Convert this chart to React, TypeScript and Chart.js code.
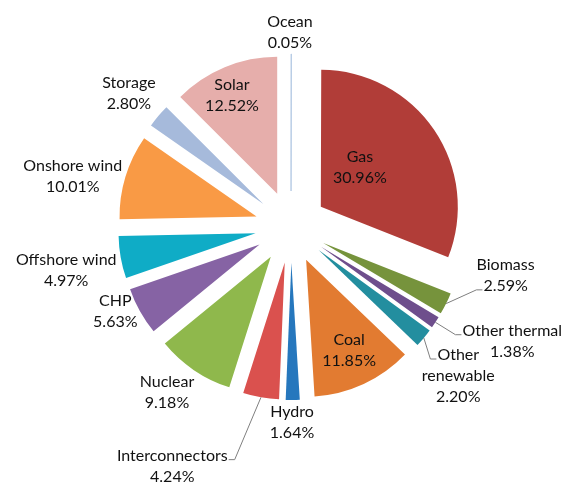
import React, { useEffect, useRef } from "react";
import { Chart, registerables } from "chart.js";

Chart.register(...registerables);

const categories = [
  "Ocean",
  "Gas",
  "Biomass",
  "Other thermal",
  "Other renewable",
  "Coal",
  "Hydro",
  "Interconnectors",
  "Nuclear",
  "CHP",
  "Offshore wind",
  "Onshore wind",
  "Storage",
  "Solar",
];

const shares = [0.05, 30.96, 2.59, 1.38, 2.2, 11.85, 1.64, 4.24, 9.18, 5.63, 4.97, 10.01, 2.8, 12.52];

const colors = [
  "#B9CDE5",
  "#B13D38",
  "#76933C",
  "#6E4E8C",
  "#238E9F",
  "#E27B31",
  "#2677BD",
  "#DA514E",
  "#8FB84C",
  "#8663A4",
  "#0FACC6",
  "#F99A45",
  "#A6BADB",
  "#E6AEAB",
];

// categories whose label is broken onto two lines at the space
const wrapped = ["Other renewable"];

// label placement, polar from the pie centre: distance (px) and angle (deg, clockwise from top)
const labelRadius = [195, 91, 220, 249, 224, 136, 195.5, 267, 207, 195, 229, 224, 210, 144];
const labelAngle = [-0.3, 49.2, 102.7, 117.3, 131.7, 154.7, 179.7, 206.4, 216.8, 244.3, 259, 283, 309.5, 335.8];

// leader lines: which text line they attach to and on which side
const leaders: ({ line: number; side: "left" | "right" } | null)[] = [
  null,
  null,
  { line: 1, side: "left" },
  { line: 0, side: "left" },
  { line: 0, side: "left" },
  null,
  null,
  { line: 0, side: "right" },
  null,
  null,
  null,
  null,
  null,
  null,
];

const EXPLODE = 36;
const RADIUS = 137;
const FONT = '16px Lato, "Open Sans", sans-serif';
const LINE_H = 21;

const explodePlugin = {
  id: "explode",
  beforeDatasetDraw(chart: any, args: any) {
    const ctx = chart.ctx;
    args.meta.data.forEach((el: any) => {
      const mid = (el.startAngle + el.endAngle) / 2;
      ctx.save();
      ctx.translate(Math.cos(mid) * EXPLODE, Math.sin(mid) * EXPLODE);
      el.draw(ctx, chart.chartArea);
      ctx.restore();
    });
    return false;
  },
};

const labelPlugin = {
  id: "pieLabels",
  afterDatasetsDraw(chart: any) {
    const ctx = chart.ctx;
    const meta = chart.getDatasetMeta(0);
    ctx.save();
    ctx.font = FONT;
    ctx.textAlign = "center";
    ctx.textBaseline = "middle";
    meta.data.forEach((el: any, i: number) => {
      const name = categories[i];
      const lines = wrapped.includes(name) ? name.split(" ") : [name];
      lines.push(shares[i].toFixed(2) + "%");
      const a = (labelAngle[i] * Math.PI) / 180;
      const cx = el.x + labelRadius[i] * Math.sin(a);
      const cy = el.y - labelRadius[i] * Math.cos(a);
      const top = cy - ((lines.length - 1) * LINE_H) / 2;
      ctx.fillStyle = "#111111";
      lines.forEach((t: string, k: number) => {
        ctx.fillText(t, cx, top + k * LINE_H);
      });
      const ld = leaders[i];
      if (ld) {
        const mid = (el.startAngle + el.endAngle) / 2;
        const sx = el.x + Math.cos(mid) * (EXPLODE + el.outerRadius);
        const sy = el.y + Math.sin(mid) * (EXPLODE + el.outerRadius);
        const w = ctx.measureText(lines[ld.line]).width;
        const ly = top + ld.line * LINE_H + 4;
        const ex = ld.side === "left" ? cx - w / 2 - 1 : cx + w / 2 + 1;
        const bx = ld.side === "left" ? ex - 6 : ex + 6;
        ctx.strokeStyle = "#7f7f7f";
        ctx.lineWidth = 1;
        ctx.beginPath();
        ctx.moveTo(sx, sy);
        ctx.lineTo(bx, ly);
        ctx.lineTo(ex, ly);
        ctx.stroke();
      }
    });
    ctx.restore();
  },
};

export default function App() {
  const ref = useRef<HTMLCanvasElement | null>(null);
  useEffect(() => {
    if (!ref.current) return;
    const chart = new Chart(ref.current, {
      type: "pie",
      data: {
        labels: categories,
        datasets: [
          {
            data: shares,
            backgroundColor: colors,
            borderWidth: shares.map((v) => (v < 0.5 ? 1 : 0)),
            borderColor: colors,
          },
        ],
      },
      options: {
        animation: false,
        responsive: false,
        radius: RADIUS,
        layout: { padding: { left: 17, right: 0, top: 0, bottom: 29 } },
        plugins: {
          legend: { display: false },
          tooltip: { enabled: false },
        },
      } as any,
      plugins: [explodePlugin, labelPlugin],
    });
    return () => chart.destroy();
  }, []);
  return (
    <div style={{ position: "fixed", left: 0, top: 0, width: 565, height: 483, background: "#fff" }}>
      <canvas ref={ref} width={565} height={483} style={{ width: 565, height: 483 }} />
    </div>
  );
}
